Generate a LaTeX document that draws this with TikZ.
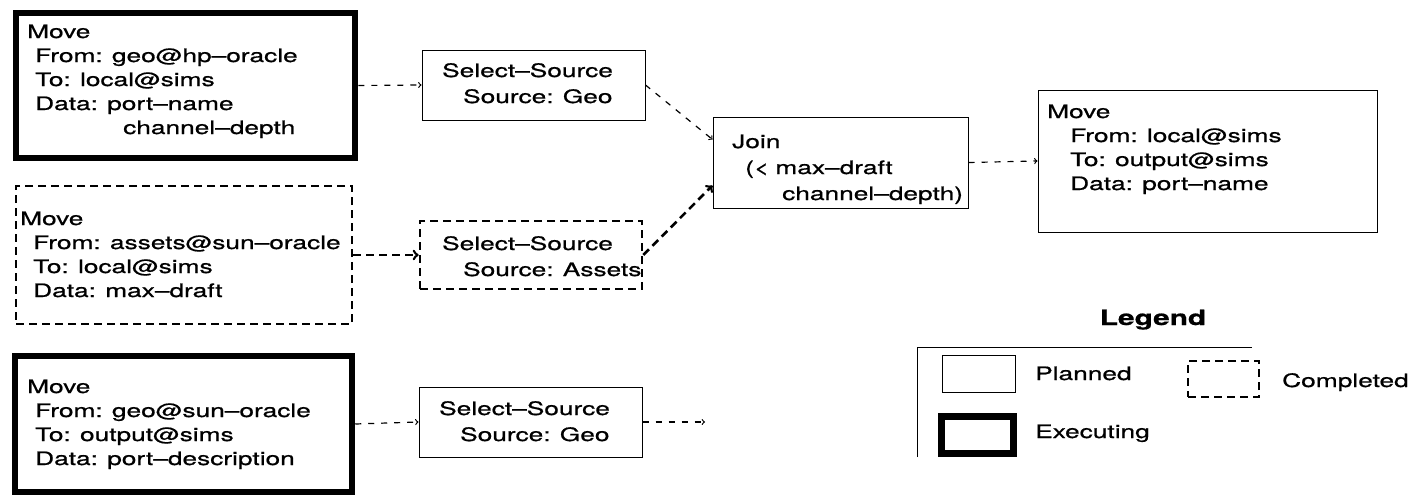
\documentclass[tikz,border=0pt]{standalone}
\usepackage{fontspec}
\setmainfont{TeX Gyre Heros}[FakeStretch=1.42,FakeBold=0.8]
\usetikzlibrary{calc}

\begin{document}
\begin{tikzpicture}[x=1pt,y=-1pt,
	exec/.style={draw,line width=6.5pt,inner sep=0pt},
	done/.style={draw,line width=2.6pt,dash pattern=on 8pt off 5pt,inner sep=0pt},
	plan/.style={draw,line width=1pt,inner sep=0pt},
	planline/.style={line width=1.2pt,dash pattern=on 6pt off 7pt,->},
	doneline/.style={line width=2.6pt,dash pattern=on 8pt off 5pt,->},
	txt/.style={anchor=base west,inner sep=0pt,text width=330pt,align=left,font=\fontsize{18.5}{24}\selectfont},
	txtw/.style={txt,font=\fontsize{18.5}{26}\selectfont},
	lbl/.style={anchor=base west,inner sep=0pt,font=\fontsize{18.5}{20}\selectfont}]
	\newcommand{\ind}[1]{\hspace*{#1pt}}
	\useasboundingbox (0,0) rectangle (1423,498);
	% 左の列
	\node[exec,minimum width=339pt,minimum height=145pt] (mvA) at (185.5,85.5) {}; %実行中
	\node[txt] (mvAt) at (27,38) {Move\\\ind{8}From: geo@hp--oracle\\\ind{8}To: local@sims\\\ind{8}Data: port--name\\\ind{96}channel--depth};
	\node[done,minimum width=336pt,minimum height=138pt] (mvB) at (184,255) {}; %完了
	\node[txt] (mvBt) at (20,225) {Move\\\ind{13}From: assets@sun--oracle\\\ind{13}To: local@sims\\\ind{13}Data: max--draft};
	\node[exec,minimum width=337pt,minimum height=136pt] (mvC) at (183.5,424) {}; %実行中
	\node[txt] (mvCt) at (27,393) {Move\\\ind{8}From: geo@sun--oracle\\\ind{8}To: output@sims\\\ind{8}Data: port--description};
	% 中の列
	\node[plan,minimum width=223pt,minimum height=70pt] (selA) at (533.5,85) {};
	\node[txtw] (selAt) at (442,77) {Select--Source\\\ind{21}Source: Geo};
	\node[done,minimum width=222pt,minimum height=68pt] (selB) at (531,255) {};
	\node[txtw] (selBt) at (442,250) {Select--Source\\\ind{21}Source: Assets};
	\node[plan,minimum width=223pt,minimum height=70pt] (selC) at (530.5,422) {};
	\node[txtw] (selCt) at (439,415) {Select--Source\\\ind{21}Source: Geo};
	\node[plan,minimum width=255pt,minimum height=91pt] (join) at (840.5,162.5) {};
	\node[txtw] (joint) at (732,148) {Join\\\ind{13}(< max--draft\\\ind{50}channel--depth)};
	% 右
	\node[plan,minimum width=339pt,minimum height=142pt] (mvD) at (1207.5,161) {};
	\node[txt] (mvDt) at (1047,118) {Move\\\ind{23}From: local@sims\\\ind{23}To: output@sims\\\ind{23}Data: port--name};
	% 矢印
	\draw[planline] (mvA.east) -- (selA.west);
	\draw[doneline] (mvB.east) -- (selB.west);
	\draw[planline] (mvC.east) -- (selC.west);
	\draw[planline] (selA.east) -- ($(join.north west)!0.25!(join.south west)$);
	\draw[doneline] (selB.east) -- ($(join.south west)!0.25!(join.north west)$);
	\draw[planline] (join.east) -- (mvD.west);
	\coordinate (selCout) at (705,422);
	\draw[planline] (selC.east) -- (selCout);
	% 凡例
	\node[anchor=base,inner sep=0pt,font=\fontsize{21}{24}\selectfont\bfseries] (legend) at (1153,325) {Legend};
	\draw[plan] (917,457) |- (1252,347); %枠
	\node[plan,minimum width=73pt,minimum height=37pt] (lgP) at (978.5,373.5) {};
	\node[lbl] (lgPt) at (1035,380) {Planned};
	\node[done,minimum width=71pt,minimum height=36pt] (lgD) at (1223.5,379) {};
	\node[lbl] (lgDt) at (1282,387) {Completed};
	\node[exec,minimum width=72pt,minimum height=37pt] (lgE) at (977.5,435) {};
	\node[lbl] (lgEt) at (1035,438) {Executing};
\end{tikzpicture}
\end{document}
